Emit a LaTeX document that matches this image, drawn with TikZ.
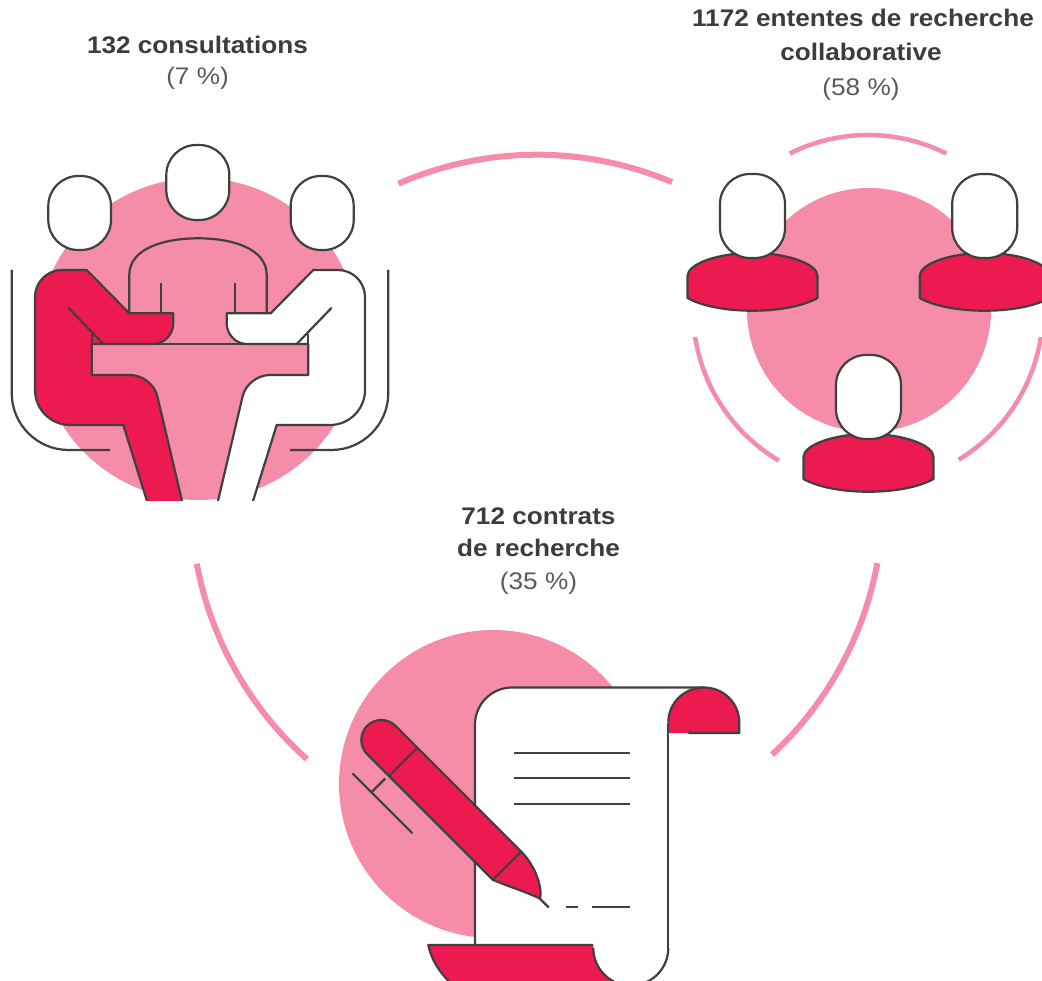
\documentclass[tikz,border=0pt]{standalone}
\usepackage{fontspec}
\setmainfont[FakeStretch=1.09]{Liberation Sans}
\definecolor{pinkc}{HTML}{F58CA8}
\definecolor{redc}{HTML}{EC1A4F}
\definecolor{grayc}{HTML}{404040}
\definecolor{txtc}{HTML}{3C3C3C}
\definecolor{pctc}{HTML}{5A5A5A}
\newcommand\seatedbody[1]{%
  \draw[outl, fill=#1] (62,270) -- (86.7,270) -- (129.3,313.3) -- (173.3,313.3) -- (173.3,323.3)
    .. controls (173.3,334.3) and (164.3,344) .. (153.3,344) -- (91.7,344) -- (91.7,375) -- (130,375)
    .. controls (142.4,375) and (154.6,384.3) .. (157.4,396.4) -- (184.6,512) -- (150.4,512) -- (123.3,425) -- (70,425)
    .. controls (50.7,425) and (35,409.3) .. (35,390) -- (35,297)
    .. controls (35,282.1) and (47.1,270) .. (62,270) -- cycle;
  \draw[outl] (68.3,307.7) -- (103.3,344);
  \draw[outl] (11.7,270) -- (11.7,393) .. controls (11.7,424.5) and (37.2,450) .. (68.7,450) -- (110,450);
}
\newcommand\standingperson[2]{%
  \begin{scope}[shift={(#1,#2)}]
    \draw[outl, fill=redc] (-65,60) .. controls (-65,48) and (-35,37) .. (0,37) .. controls (35,37) and (65,48) .. (65,60)
      -- (65,82) .. controls (35,99) and (-35,99) .. (-65,82) -- cycle;
    \draw[outl, fill=white, rounded corners=30pt] (-32.5,-42) rectangle (32.5,42);
  \end{scope}
}
\begin{document}
\begin{tikzpicture}[x=1pt,y=-1pt,
  outl/.style={draw=grayc, line width=2.2pt, line join=round},
  bigarc/.style={draw=pinkc, line width=6pt},
  smallarc/.style={draw=pinkc, line width=4.5pt},
  ttl/.style={anchor=base, text=txtc, inner sep=0pt, font=\fontsize{24}{28}\selectfont\bfseries},
  pct/.style={anchor=base, text=pctc, inner sep=0pt, font=\fontsize{24}{28}\selectfont}]
\useasboundingbox (0,0) rectangle (1042,981);

% ---- big ring arcs
\draw[bigarc] plot[domain=67:113.6, samples=60] ({537+346*cos(\x)},{500.7-346*sin(\x)});
\draw[bigarc] plot[domain=190.5:228.3, samples=60] ({537+346*cos(\x)},{500.7-346*sin(\x)});
\draw[bigarc] plot[domain=-47.2:-10.4, samples=60] ({537+346*cos(\x)},{500.7-346*sin(\x)});

% ---- texts
\node[ttl] (c1) at (197.5,53.3) {132 consultations};
\node[pct] (c2) at (197.5,84.5) {(7 \%)};
\node[ttl] (e1) at (863,26.5) {1172 ententes de recherche};
\node[ttl] (e2) at (861,61) {collaborative};
\node[pct] (e3) at (861,96) {(58 \%)};
\node[ttl] (r1) at (538.5,525) {712 contrats};
\node[ttl] (r2) at (538.5,556.7) {de recherche};
\node[pct] (r3) at (538.5,589) {(35 \%)};

% ---- consultation icon
\begin{scope}
  \clip (0,120) rectangle (420,500);
  \fill[pinkc] (198.5,339) circle[radius=161pt];
  \draw[outl, fill=pinkc] (129.3,313.3) -- (129.3,275) .. controls (129.3,248) and (165,238.3) .. (198.3,238.3)
     .. controls (231,238.3) and (266.7,248) .. (266.7,275) -- (266.7,313.3);
  \draw[outl] (160.7,282.7) -- (160.7,313.3);
  \draw[outl] (235.3,282.7) -- (235.3,313.3);
  \seatedbody{redc}
  \begin{scope}[shift={(400,0)}, xscale=-1]
    \seatedbody{white}
  \end{scope}
  \draw[outl] (91.7,334) -- (91.7,375);
  \draw[outl] (308.3,334) -- (308.3,375);
  \draw[outl] (91.7,344) -- (308.3,344);
  \draw[outl, fill=white, rounded corners=30pt] (48.3,176) rectangle (111,250);
  \draw[outl, fill=white, rounded corners=30pt] (166.3,145) rectangle (229.3,220);
  \draw[outl, fill=white, rounded corners=30pt] (290.7,176) rectangle (353.7,250);
\end{scope}

% ---- collaboration icon
\fill[pinkc] (869,310) circle[radius=122pt];
\draw[smallarc] plot[domain=63.4:116.6, samples=40] ({868+175*cos(\x)},{310-175*sin(\x)});
\draw[smallarc] plot[domain=188.9:239.4, samples=40] ({868+175*cos(\x)},{310-175*sin(\x)});
\draw[smallarc] plot[domain=-58.8:-8.9, samples=40] ({868+175*cos(\x)},{310-175*sin(\x)});
\standingperson{752.5}{216}
\standingperson{984.7}{216}
\standingperson{868.5}{397}

% ---- contract icon
\fill[pinkc] (493,784) circle[radius=154pt];
\fill[white] (475,948) -- (475,724.5) .. controls (475,704.1) and (491.6,687.5) .. (512,687.5) -- (668.3,687.5) -- (668.3,948) -- cycle;
\draw[outl] (475,945) -- (475,724.5) .. controls (475,704.1) and (491.6,687.5) .. (512,687.5) -- (703.8,687.5);
\fill[redc] (428.3,945) .. controls (432,963) and (443,977) .. (458,990) -- (631,990) -- (631,945) -- cycle;
\draw[outl] (593.3,945) -- (428.3,945) .. controls (432,963) and (443,977) .. (458,990);
\fill[white] (630.8,948) circle[radius=37.5pt];
\draw[outl] plot[domain=0:-180, samples=60] ({630.8+37.5*cos(\x)},{948-37.5*sin(\x)});
\fill[redc] (668.3,733) -- (668.3,722.5) .. controls (668.3,702.9) and (684.2,687.5) .. (703.8,687.5)
   .. controls (723.4,687.5) and (739.3,702.9) .. (739.3,722.5) -- (739.3,733) -- cycle;
\draw[outl] (668.3,722.5) .. controls (668.3,702.9) and (684.2,687.5) .. (703.8,687.5)
   .. controls (723.4,687.5) and (739.3,702.9) .. (739.3,722.5) -- (739.3,733) -- (688.3,733);
\draw[outl] (668.3,722.5) -- (668.3,948);
\draw[outl] (514,752.7) -- (630,752.7);
\draw[outl] (514,778) -- (630,778);
\draw[outl] (514,803.7) -- (630,803.7);
\draw[outl] (565.7,906.7) -- (578.3,906.7);
\draw[outl] (591.7,906.7) -- (630,906.7);
\begin{scope}[shift={(381.3,740)}, rotate=-45]
  \draw[outl, fill=redc] (0,-20) -- (177.8,-20) .. controls (200,-20) and (220,-8) .. (224.4,0)
     .. controls (212,4) and (195,13) .. (177.8,20) -- (0,20)
     .. controls (-11,20) and (-20,11) .. (-20,0) .. controls (-20,-11) and (-11,-20) .. (0,-20) -- cycle;
  \draw[outl] (31,-20) -- (31,20);
  \draw[outl] (177.8,-20) -- (177.8,20);
  \draw[outl] (224.4,0) -- (237,0);
  \draw[outl] (30,24.5) -- (30,44);
  \draw[outl] (3.3,44) -- (87.9,44);
\end{scope}
\end{tikzpicture}
\end{document}
